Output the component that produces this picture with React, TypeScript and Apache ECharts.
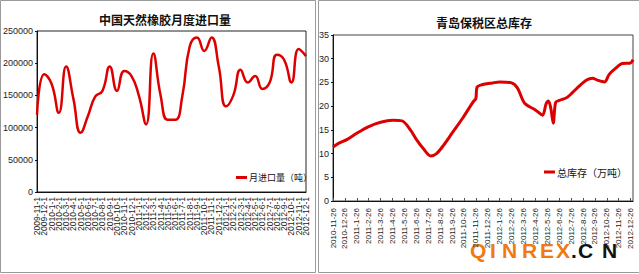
import React, { useEffect, useRef } from "react";
import * as echarts from "echarts";

const leftTitle = "中国天然橡胶月度进口量";
const rightTitle = "青岛保税区总库存";
const leftSeriesName = "月进口量（吨）";
const rightSeriesName = "总库存（万吨）";

const leftMonths = [
  "2009-11-1", "2009-12-1", "2010-1-1", "2010-2-1", "2010-3-1", "2010-4-1", "2010-5-1", "2010-6-1",
  "2010-7-1", "2010-8-1", "2010-9-1", "2010-10-1", "2010-11-1", "2010-12-1", "2011-1-1", "2011-2-1",
  "2011-3-1", "2011-4-1", "2011-5-1", "2011-6-1", "2011-7-1", "2011-8-1", "2011-9-1", "2011-10-1",
  "2011-11-1", "2011-12-1", "2012-1-1", "2012-2-1", "2012-3-1", "2012-4-1", "2012-5-1", "2012-6-1",
  "2012-7-1", "2012-8-1", "2012-9-1", "2012-10-1", "2012-11-1", "2012-12-1",
];
const leftImports = [
  120000, 183000, 168000, 123000, 195000, 145000, 92000, 118000,
  148000, 157000, 195000, 157000, 188000, 180000, 150000, 105000,
  215000, 150000, 112000, 112000, 150000, 226000, 240000, 219000,
  240000, 195000, 133000, 150000, 190000, 170000, 180000, 160000,
  170000, 213000, 205000, 170000, 222000, 211000,
];

const rightMonths = [
  "2010-11-26", "2010-12-26", "2011-1-26", "2011-2-26", "2011-3-26", "2011-4-26", "2011-5-26",
  "2011-6-26", "2011-7-26", "2011-8-26", "2011-9-26", "2011-10-26", "2011-11-26", "2011-12-26",
  "2012-1-26", "2012-2-26", "2012-3-26", "2012-4-26", "2012-5-26", "2012-6-26", "2012-7-26",
  "2012-8-26", "2012-9-26", "2012-10-26", "2012-11-26", "2012-12-26",
];
const rightPos = [
  0, 0.5, 1.2, 2, 3, 4, 5, 5.8, 6.5, 7, 7.6, 8.2, 8.7, 9.3, 10, 10.9, 11.8, 12, 12.1, 12.5,
  13.4, 14, 15, 15.5, 16.1, 17, 17.6, 17.9, 18.1, 18.3, 18.5, 18.7, 19, 19.7, 20.5, 21.3,
  21.8, 22.2, 22.8, 23.2, 23.7, 24.3, 25, 25.2,
];
const rightStock = [
  11.4, 12.2, 13.0, 14.3, 15.7, 16.6, 17.0, 16.9, 15.0, 13.0, 11.0, 9.5, 10.0, 11.8, 14.3, 17.5,
  21.0, 21.6, 24.0, 24.5, 24.9, 25.1, 24.9, 23.8, 20.6, 19.2, 18.1, 20.5, 21.1, 19.5, 16.4, 20.8,
  21.2, 21.9, 23.8, 25.5, 25.9, 25.5, 25.1, 26.7, 27.9, 29.0, 29.1, 29.8,
];

const watermarkLetters = ["Q", "I", "N", "R", "E", "X", ".", "C", "N"];
const watermarkX = [470, 490, 502, 522, 540, 556, 571, 578, 602];

const RED = "#dc0000";
const FONT = "'Liberation Sans', Arial, sans-serif";
const NARROW = "'Liberation Sans Narrow', 'Liberation Sans', Arial, sans-serif";
const CJK = "'Noto Sans CJK SC', sans-serif";

export default function App() {
  const ref = useRef<HTMLDivElement>(null);
  useEffect(() => {
    if (!ref.current) return;
    const chart = echarts.init(ref.current, undefined, { renderer: "svg" });
    const axisLbl = { color: "#222", fontSize: 8, fontFamily: FONT };
    const wm = watermarkLetters.map((ch, i) => ({
      type: "text", x: watermarkX[i], y: 240,
      style: {
        text: ch, fill: i < 6 ? "#f07a10" : "#111",
        font: "bold 21px 'Liberation Sans', Arial, sans-serif", textVerticalAlign: "top",
      },
    }));
    chart.setOption({
      animation: false,
      backgroundColor: "#fff",
      title: [
        {
          text: leftTitle, left: 160, top: 8, textAlign: "center",
          textStyle: { fontSize: 12, fontWeight: "bold", color: "#111", fontFamily: CJK },
        },
        {
          text: rightTitle, left: 479, top: 11, textAlign: "center",
          textStyle: { fontSize: 12, fontWeight: "bold", color: "#111", fontFamily: CJK },
        },
      ],
      legend: [
        {
          data: [leftSeriesName], left: 236, top: 173, icon: "rect", itemWidth: 11, itemHeight: 3,
          itemGap: 2, padding: 0,
          textStyle: { fontSize: 9, color: "#111", fontFamily: CJK, padding: [0, 0, 0, -3] },
        },
        {
          data: [rightSeriesName], left: 544, top: 167, icon: "rect", itemWidth: 11, itemHeight: 3,
          padding: 0,
          textStyle: { fontSize: 10, color: "#111", fontFamily: CJK, padding: [0, 0, 0, -3] },
        },
      ],
      graphic: [
        { type: "rect", shape: { x: 0.5, y: 0.5, width: 315, height: 272 }, style: { fill: "none", stroke: "#9a9a9a", lineWidth: 1 } },
        { type: "rect", shape: { x: 318.5, y: 0.5, width: 325, height: 272 }, style: { fill: "none", stroke: "#9a9a9a", lineWidth: 1 } },
        ...wm,
      ],
      grid: [
        { left: 30, top: 31, width: 276, height: 161, show: true, borderColor: "#222", borderWidth: 1 },
        { left: 333, top: 35, width: 300, height: 166, show: true, borderColor: "#444", borderWidth: 1 },
      ],
      xAxis: [
        {
          gridIndex: 0, type: "category", data: leftMonths, boundaryGap: false,
          axisLine: { lineStyle: { color: "#111" } },
          axisTick: { show: false },
          axisLabel: { ...axisLbl, fontSize: 8.5, interval: 0, rotate: 90, margin: 5 },
        },
        {
          gridIndex: 1, type: "value", min: 0, max: 25.2, interval: 1,
          splitLine: { show: false },
          axisLine: { lineStyle: { color: "#111" } },
          axisTick: { inside: true, length: 3, lineStyle: { color: "#555" } },
          axisLabel: {
            ...axisLbl, rotate: 90, margin: 7, showMaxLabel: false,
            formatter: (v: number) => (Number.isInteger(v) && rightMonths[v]) ? rightMonths[v] : "",
          },
        },
      ],
      yAxis: [
        {
          gridIndex: 0, type: "value", min: 0, max: 250000, interval: 50000,
          splitLine: { show: false },
          axisLine: { show: true, lineStyle: { color: "#111" } },
          axisTick: { show: true, length: 2, lineStyle: { color: "#111" } },
          axisLabel: {
            color: "#222", fontSize: 9, fontFamily: NARROW, margin: 4,
            formatter: (v: number) => String(v),
          },
        },
        {
          gridIndex: 1, type: "value", min: 0, max: 35, interval: 5,
          splitLine: { show: false },
          axisLine: { show: true, lineStyle: { color: "#111" } },
          axisTick: { show: true, length: 2, lineStyle: { color: "#111" } },
          axisLabel: { color: "#222", fontSize: 9, fontFamily: NARROW, margin: 4 },
        },
      ],
      series: [
        {
          name: leftSeriesName, type: "line", xAxisIndex: 0, yAxisIndex: 0,
          data: leftImports, smooth: 0.5, showSymbol: false,
          lineStyle: { color: RED, width: 2.5 }, itemStyle: { color: RED },
        },
        {
          name: rightSeriesName, type: "line", xAxisIndex: 1, yAxisIndex: 1,
          data: rightPos.map((p, i) => [p, rightStock[i]]), smooth: 0.3, showSymbol: false,
          lineStyle: { color: RED, width: 3 }, itemStyle: { color: RED },
        },
      ],
    });
    return () => chart.dispose();
  }, []);
  return (
    <div
      ref={ref}
      style={{ position: "absolute", left: 0, top: 0, width: 639, height: 274 }}
    />
  );
}
